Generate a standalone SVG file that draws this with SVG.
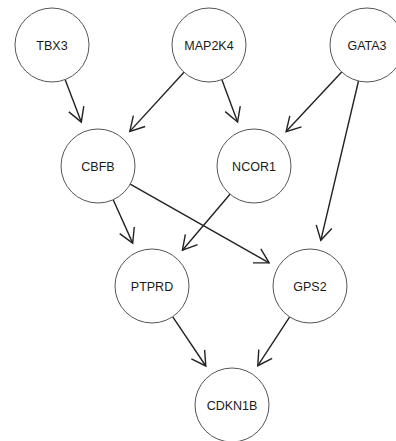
<svg xmlns="http://www.w3.org/2000/svg" width="396" height="441" viewBox="0 0 396 441">
<style>
.node circle{fill:#fff;stroke:#555;stroke-width:1}
.node text{font-family:"Liberation Sans",Arial,sans-serif;font-size:12.5px;fill:#1a1a1a;text-anchor:middle;dominant-baseline:central}
.edge{stroke:#222;stroke-width:1.4;fill:none;marker-end:url(#arr)}
</style>
<defs>
<marker id="arr" markerUnits="userSpaceOnUse" viewBox="-17 -11 19 22" refX="0" refY="0" markerWidth="19" markerHeight="22" orient="auto">
<path d="M-14,-8 L0,0 L-14,8" fill="none" stroke="#222" stroke-width="1.4"/>
</marker>
</defs>
<rect width="396" height="441" fill="#fff"/>
<g id="connectors">
<line class="edge" x1="65.1" y1="79.6" x2="81.3" y2="122.1"/>
<line class="edge" x1="184.0" y1="72.3" x2="129.8" y2="131.4"/>
<line class="edge" x1="221.9" y1="79.7" x2="237.6" y2="122.0"/>
<line class="edge" x1="341.7" y1="72.0" x2="286.1" y2="131.6"/>
<line class="edge" x1="358.5" y1="81.0" x2="320.8" y2="240.3"/>
<line class="edge" x1="113.2" y1="199.7" x2="132.7" y2="243.1"/>
<line class="edge" x1="130.2" y1="184.2" x2="269.1" y2="262.8"/>
<line class="edge" x1="230.0" y1="194.2" x2="182.4" y2="250.2"/>
<line class="edge" x1="172.6" y1="316.7" x2="205.8" y2="366.0"/>
<line class="edge" x1="289.7" y1="316.9" x2="257.8" y2="365.7"/>
</g>
<g id="TBX3" class="node"><circle cx="52" cy="45" r="37"/><text x="52" y="46">TBX3</text></g>
<g id="MAP2K4" class="node"><circle cx="209" cy="45" r="37"/><text x="209" y="46">MAP2K4</text></g>
<g id="GATA3" class="node"><circle cx="367" cy="45" r="37"/><text x="367" y="46">GATA3</text></g>
<g id="CBFB" class="node"><circle cx="98" cy="166" r="37"/><text x="98" y="167">CBFB</text></g>
<g id="NCOR1" class="node"><circle cx="254" cy="166" r="37"/><text x="254" y="167">NCOR1</text></g>
<g id="PTPRD" class="node"><circle cx="152" cy="286" r="37"/><text x="152" y="287">PTPRD</text></g>
<g id="GPS2" class="node"><circle cx="310" cy="286" r="37"/><text x="310" y="287">GPS2</text></g>
<g id="CDKN1B" class="node"><circle cx="232" cy="405" r="37"/><text x="232" y="406">CDKN1B</text></g>
</svg>
